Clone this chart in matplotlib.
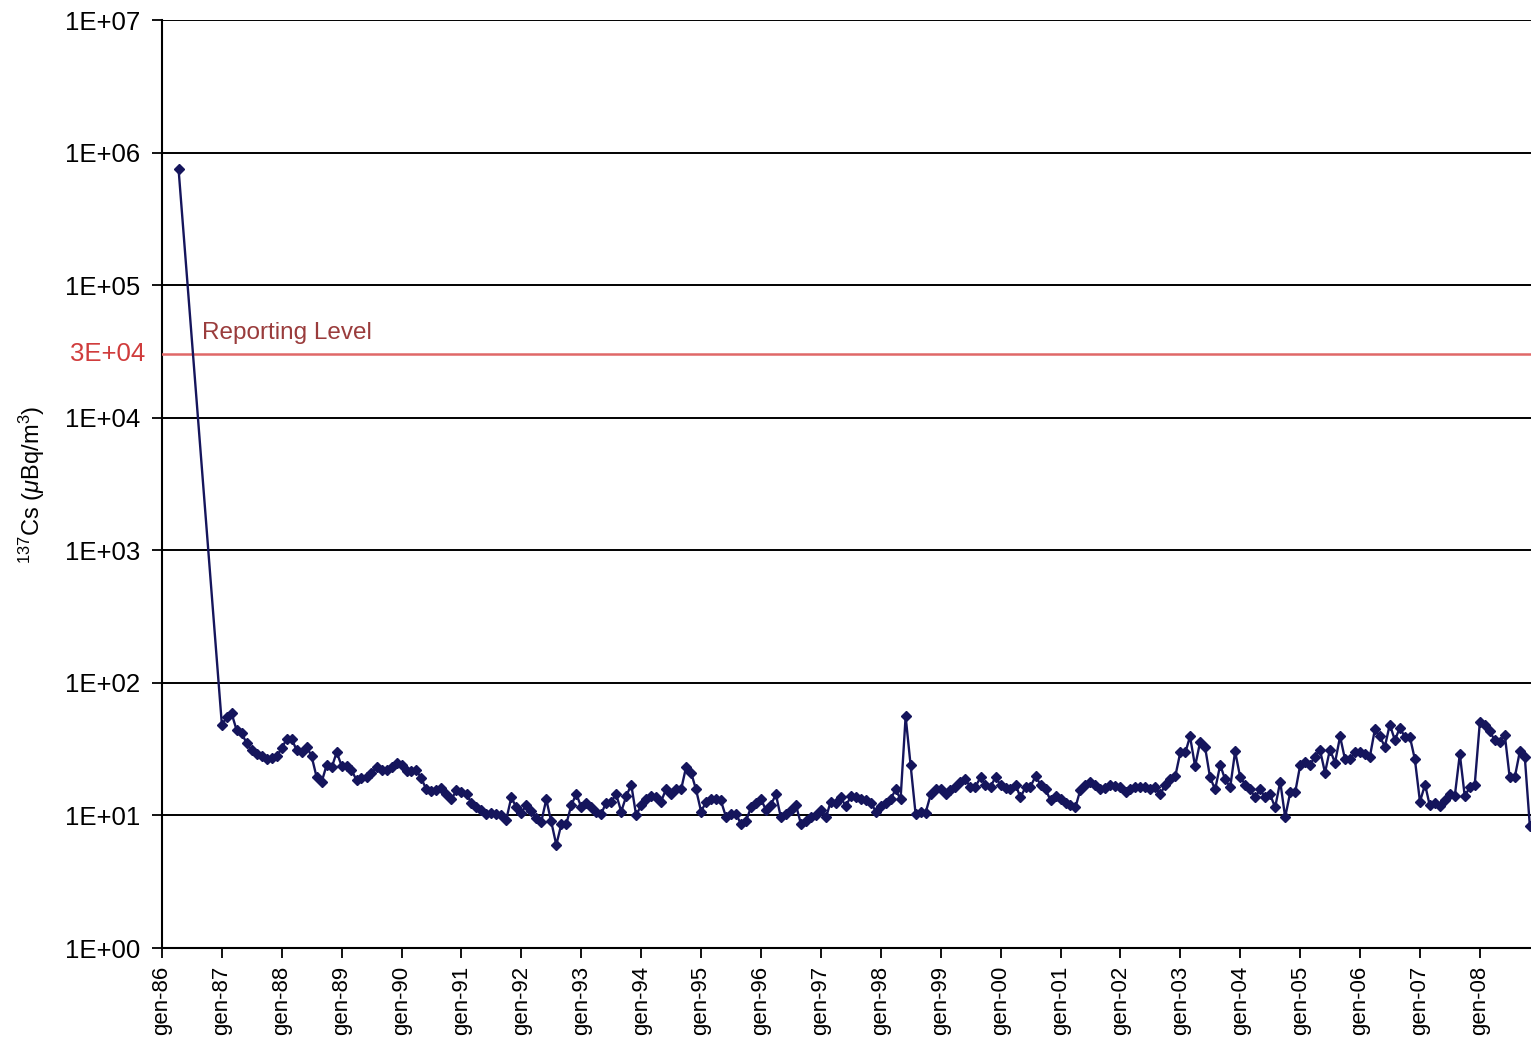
import pandas as pd
import matplotlib
matplotlib.use("Agg")
import matplotlib.pyplot as plt
import matplotlib.dates as mdates
from matplotlib.ticker import FixedLocator, FuncFormatter, NullLocator

plt.rcParams['font.family'] = ['Liberation Sans', 'DejaVu Sans']
plt.rcParams['mathtext.fontset'] = 'custom'
plt.rcParams['mathtext.rm'] = 'Liberation Sans'
plt.rcParams['mathtext.it'] = 'Liberation Sans:italic'

# Chernobyl peak, then monthly 137Cs air concentrations (uBq/m3) from gen-87
peak_date = '1986-04-12'
peak_value = 7.5e5

cs137 = [
    48.5, 55, 59, 44, 42, 35, 31, 29, 28, 26.5, 27, 28,              # 1987
    32, 38, 38, 31, 30, 33, 28, 19.4, 18, 24, 23, 30,                 # 1988
    23.5, 23.5, 22, 18.5, 19, 19.4, 21, 23, 22, 22, 23, 25,           # 1989
    24, 21.5, 21.5, 22, 19, 15.7, 15.3, 15.5, 16, 14.5, 13.2, 15.5,   # 1990
    15, 14.5, 12.5, 11.5, 11, 10.2, 10.4, 10.3, 10, 9.3, 13.7, 11.5,  # 1991
    10.5, 12, 10.8, 9.5, 8.9, 13.2, 9, 6.0, 8.6, 8.6, 12, 14.5,       # 1992
    11.5, 12.5, 11.5, 10.7, 10.2, 12.5, 12.7, 14.4, 10.7, 13.9, 17.1, 10,  # 1993
    12, 13.2, 13.9, 13.7, 12.7, 15.7, 14.4, 15.7, 15.7, 23, 21, 15.7,  # 1994
    10.7, 12.7, 13.2, 13.2, 13, 9.8, 10.2, 10.3, 8.6, 9.0, 11.5, 12.5,  # 1995
    13.2, 11, 12, 14.4, 9.7, 10.2, 11, 12, 8.6, 9, 9.7, 10,           # 1996
    11, 9.7, 12.7, 12.5, 13.7, 11.7, 13.9, 13.7, 13.4, 13, 12.5, 10.7,  # 1997
    11.7, 12.5, 13.2, 15.7, 13.2, 55.8, 24, 10.2, 10.7, 10.5, 14.4, 15.7,  # 1998
    15.7, 14.4, 15.5, 16.5, 18, 18.7, 16.3, 16.5, 19.4, 17, 16.5, 19.4,  # 1999
    17, 16, 15.7, 17.1, 13.7, 16.3, 16.5, 19.7, 17.1, 15.7, 13, 13.9,  # 2000
    13.2, 12.5, 12, 11.5, 15.5, 17, 17.8, 17, 15.8, 16, 17.1, 16.8,   # 2001
    16.3, 15, 15.7, 16.3, 16.3, 16.3, 15.7, 16.3, 14.4, 17.1, 18.7, 19.7,  # 2002
    30, 30, 39.4, 23.5, 35.5, 32.6, 19.4, 15.7, 24, 18.7, 16.3, 30.4,  # 2003
    19.4, 17.1, 15.7, 13.7, 15.7, 13.7, 14.4, 11.5, 18, 9.7, 14.9, 14.9,  # 2004
    24, 25.5, 24, 27.8, 31.4, 21, 31.4, 25, 39.4, 26.5, 26.5, 30,     # 2005
    30, 29, 27.5, 44.5, 39.4, 33, 48.5, 37, 46, 38.8, 38.8, 26.5,     # 2006
    12.7, 17.1, 12, 12.5, 11.7, 13, 14.4, 13.9, 29, 14, 16.3, 17.1,   # 2007
    50.3, 48.5, 43, 37, 36, 40.7, 19.4, 19.4, 30.4, 27.8, 8.3,        # 2008
]

reporting_level = 3e4
y_ticks = [1e0, 1e1, 1e2, 1e3, 1e4, 1e5, 1e6, 1e7]
y_labels = ['1E+00', '1E+01', '1E+02', '1E+03', '1E+04', '1E+05', '1E+06', '1E+07']

months = pd.date_range('1987-01-01', periods=len(cs137), freq='MS')
dates = [pd.Timestamp(peak_date)] + list(months)
values = [peak_value] + cs137

fig = plt.figure(figsize=(15.31, 10.42), dpi=100)
ax = fig.add_axes([162 / 1531, 1 - 948 / 1042, 1 - 162 / 1531, (948 - 20) / 1042])

ax.plot(dates, values, color='#15155c', lw=1.7, marker='D', ms=5.2,
        markeredgecolor='#15155c', markerfacecolor='#15155c', zorder=4)

ax.axhline(reporting_level, color='#e06868', lw=1.8, zorder=3)
ax.text(pd.Timestamp('1986-09-01'), 3.6e4, 'Reporting Level', color='#9a3c3c',
        fontsize=17.5, va='bottom', ha='left')
ax.annotate('3E+04', xy=(0, reporting_level), xycoords=('axes fraction', 'data'),
            xytext=(-12, 0), textcoords='offset points', ha='right', va='center',
            color='#d03c3c', fontsize=18.5)

ax.set_yscale('log')
ax.set_ylim(1, 1e7)
ax.yaxis.set_major_locator(FixedLocator(y_ticks))
ax.yaxis.set_minor_locator(NullLocator())
ax.set_yticklabels(y_labels)
for yv in y_ticks[1:]:
    ax.axhline(yv, color='black', lw=1.4, zorder=2)

ax.set_xlim(pd.Timestamp('1986-01-01'), pd.Timestamp('2008-11-08'))
ax.xaxis.set_major_locator(mdates.YearLocator())
ax.xaxis.set_major_formatter(FuncFormatter(lambda x, pos: 'gen-' + mdates.num2date(x).strftime('%y')))
ax.tick_params(axis='x', labelrotation=90, labelsize=16, length=7, width=1.3, pad=6)
ax.tick_params(axis='y', labelsize=18.5, length=7, width=1.3, pad=9)

for side in ['top', 'right']:
    ax.spines[side].set_visible(False)
ax.spines['left'].set_linewidth(1.5)
ax.spines['bottom'].set_linewidth(1.5)

fig.text(32 / 1531, 1 - 485 / 1042, r'$^{137}$Cs ($\mu$Bq/m$^{3}$)', rotation=90,
         ha='center', va='center', fontsize=17)

fig.savefig('out.png', dpi=100)
